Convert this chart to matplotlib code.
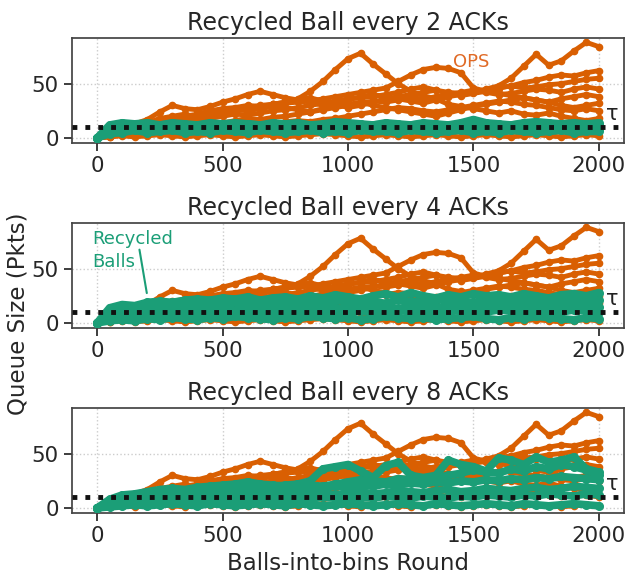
import matplotlib
matplotlib.use("Agg")
import matplotlib.pyplot as plt
import seaborn as sns
import numpy as np

sns.set_theme(style="ticks", context="notebook", font_scale=1.4)
plt.rcParams['font.family'] = ['DejaVu Sans']

# ---------------- data ----------------
rounds = list(range(0, 2001, 50))

titles = ["Recycled Ball every 2 ACKs", "Recycled Ball every 4 ACKs", "Recycled Ball every 8 ACKs"]
tau = 10

ops_1 = [0,4,7,11,13,15,13,17,19,21,23,25,27,28,31,33,36,43,52,63,73,78,68,59,50,43,39,36,31,29,27,25,23,25,22,21,23,20,18,16,18]
ops_2 = [0,2,5,8,10,12,14,17,20,22,24,26,28,30,31,32,33,34,36,38,40,42,44,46,52,58,63,65,64,60,46,43,41,39,37,35,33,30,28,30,32]
ops_3 = [0,5,9,13,17,24,30,27,26,29,33,36,40,43,40,37,35,33,30,32,35,38,40,38,36,34,32,35,38,40,42,45,48,55,66,77,67,71,80,88,84]
ops_4 = [0,2,5,8,11,14,17,20,22,25,27,28,30,29,31,33,35,37,34,31,28,30,33,36,38,40,42,44,41,39,41,43,46,48,51,53,56,58,57,60,62]
ops_5 = [0,3,6,9,11,13,15,14,16,18,20,22,21,23,25,26,28,30,32,34,36,37,38,40,42,45,47,44,42,41,43,44,46,48,46,47,49,50,52,54,55]
ops_6 = [0,2,4,6,8,10,12,11,13,15,14,16,18,17,19,20,22,24,26,28,30,32,34,33,35,37,36,38,40,42,44,42,40,41,43,45,44,42,45,47,45]
ops_7 = [0,1,3,5,6,8,9,10,9,11,12,13,12,14,13,15,16,15,17,18,20,22,24,26,28,27,25,24,26,28,30,32,34,33,31,30,28,26,25,27,25]
ops_8 = [0,2,4,5,6,7,8,6,7,9,8,10,9,8,10,11,9,8,10,12,11,9,8,10,11,12,13,12,11,10,12,14,13,12,15,14,12,11,13,12,10]
ops_9 = [0,1,2,1,2,3,2,1,2,3,2,1,2,3,2,1,2,3,4,3,2,1,2,3,2,1,2,3,2,1,2,3,2,1,2,3,2,1,2,3,2]
ops_10 = [0,3,6,10,14,18,20,22,19,21,24,26,25,27,29,28,26,24,27,29,31,33,30,28,26,24,22,20,23,26,29,31,33,35,37,35,33,36,38,40,38]
ops_series = [ops_1, ops_2, ops_3, ops_4, ops_5, ops_6, ops_7, ops_8, ops_9, ops_10]

rec2_a = [0,4,5,7,5,6,7,5,6,5,7,6,5,7,6,5,6,7,5,6,5,7,6,6,5,7,6,5,6,7,5,6,5,7,6,5,6,7,5,6,6]
rec2_b = [0,7,8,9,8,10,9,8,9,10,8,9,10,9,8,10,9,8,9,10,9,8,10,9,8,9,10,9,8,10,9,8,9,10,8,9,10,9,8,9,9]
rec2_c = [0,10,11,12,11,12,13,11,12,13,12,11,13,12,11,12,13,12,11,13,12,11,12,13,11,12,13,12,11,12,14,13,11,12,13,12,11,12,13,12,12]
rec2_d = [0,12,14,13,14,12,14,13,12,14,13,14,13,12,14,13,14,12,13,15,14,13,12,14,13,12,14,13,12,14,17,14,13,12,14,15,14,13,14,13,14]
rec4_a = [0,14,17,16,19,20,19,21,22,21,23,22,24,21,23,24,22,25,23,26,24,22,25,27,24,28,25,23,26,24,27,25,26,24,27,25,23,26,27,25,28]
rec4_b = [0,11,13,14,15,16,15,17,16,18,17,19,18,17,19,18,20,19,18,20,21,19,20,18,21,20,19,21,22,20,19,21,20,22,21,19,20,22,21,20,21]
rec4_c = [0,8,9,10,11,12,11,13,12,14,13,12,14,13,15,14,13,15,14,13,15,16,14,15,13,16,15,14,16,15,17,15,14,16,15,17,16,15,17,16,15]
rec4_d = [0,5,6,7,6,8,7,9,8,7,9,8,10,9,8,10,9,11,10,9,10,11,9,10,12,10,11,9,10,12,11,10,12,11,10,12,11,10,12,11,10]
rec4_e = [0,2,3,2,4,3,5,4,3,5,4,6,5,4,3,5,4,6,5,4,5,3,4,6,5,4,5,3,4,5,6,4,3,5,4,6,5,4,3,5,4]
rec8_a = [0,8,12,13,15,17,18,17,19,20,21,22,24,22,21,20,22,25,36,38,40,34,28,39,42,30,28,30,44,40,38,34,46,44,40,47,42,44,47,36,33]
rec8_b = [0,6,9,11,13,14,15,16,17,18,19,20,19,18,20,21,22,21,20,22,24,26,25,24,27,26,25,28,30,32,35,33,32,36,34,38,36,40,38,35,30]
rec8_c = [0,5,8,10,11,12,13,12,14,15,14,16,17,15,16,18,17,19,18,20,19,21,20,22,21,23,22,24,23,25,24,26,25,27,26,28,27,29,28,27,26]
rec8_d = [0,4,6,7,8,9,8,10,9,11,10,12,11,10,12,13,12,14,13,12,14,15,13,14,16,15,14,16,17,15,16,18,17,16,18,19,17,18,20,19,18]
rec8_e = [0,2,4,5,6,5,7,6,8,7,6,8,7,9,8,7,9,8,10,9,8,10,9,11,10,9,11,10,9,11,10,12,11,10,12,11,13,12,11,13,12]
rec8_f = [0,1,2,3,2,3,4,3,2,4,3,2,3,4,3,2,4,3,2,3,4,3,2,3,4,3,2,4,3,2,3,4,3,2,4,3,2,3,4,3,2]
recycled_series = [
    [rec2_a, rec2_b, rec2_c, rec2_d],
    [rec4_a, rec4_b, rec4_c, rec4_d, rec4_e],
    [rec8_a, rec8_b, rec8_c, rec8_d, rec8_e, rec8_f],
]

ORANGE = "#d95f02"
GREEN = "#1b9e77"

fig = plt.figure(figsize=(6.25, 5.75), dpi=100)
W, H = 625.0, 575.0
axes = []
for k in range(3):
    top = 38 + 185 * k
    bot = 143 + 185 * k
    ax = fig.add_axes([72 / W, 1 - bot / H, 552 / W, (bot - top) / H])
    axes.append(ax)

for k, ax in enumerate(axes):
    for s in ops_series:
        ax.plot(rounds, s, color=ORANGE, lw=3.5, marker='o', ms=4.5,
                solid_capstyle='round', solid_joinstyle='round', zorder=2)
    for s in recycled_series[k]:
        ax.plot(rounds, s, color=GREEN, lw=5.5, marker='o', ms=5.5,
                solid_capstyle='round', solid_joinstyle='round', zorder=3)
    ax.axhline(tau, color="#111111", lw=3.5, ls=':', zorder=4)
    ax.text(2030, tau + 3, "τ", fontsize=15, color="#222222", ha='left', va='bottom')
    ax.set_xlim(-100, 2100)
    ax.set_ylim(-4.6, 92)
    ax.set_xticks([0, 500, 1000, 1500, 2000])
    ax.set_yticks([0, 50])
    ax.grid(True, ls=':', color='#cccccc', lw=1)
    ax.set_title(titles[k], fontsize=17, pad=6)
    for sp in ax.spines.values():
        sp.set_color('#444444')

axes[0].text(1490, 70, "OPS", color="#e06a26", fontsize=13, ha='center', va='center')
axes[1].text(-20, 67, "Recycled\nBalls", color=GREEN, fontsize=13, ha='left', va='center',
             linespacing=1.35)
axes[1].annotate("", xy=(200, 25), xytext=(167, 70),
                 arrowprops=dict(arrowstyle='-', color=GREEN, lw=1.5))
axes[2].set_xlabel("Balls-into-bins Round", fontsize=16.5)
fig.text(18 / W, 1 - 314 / H, "Queue Size (Pkts)", rotation=90, fontsize=16.5,
         ha='center', va='center', color='#262626')

fig.savefig("out.png", dpi=100)
